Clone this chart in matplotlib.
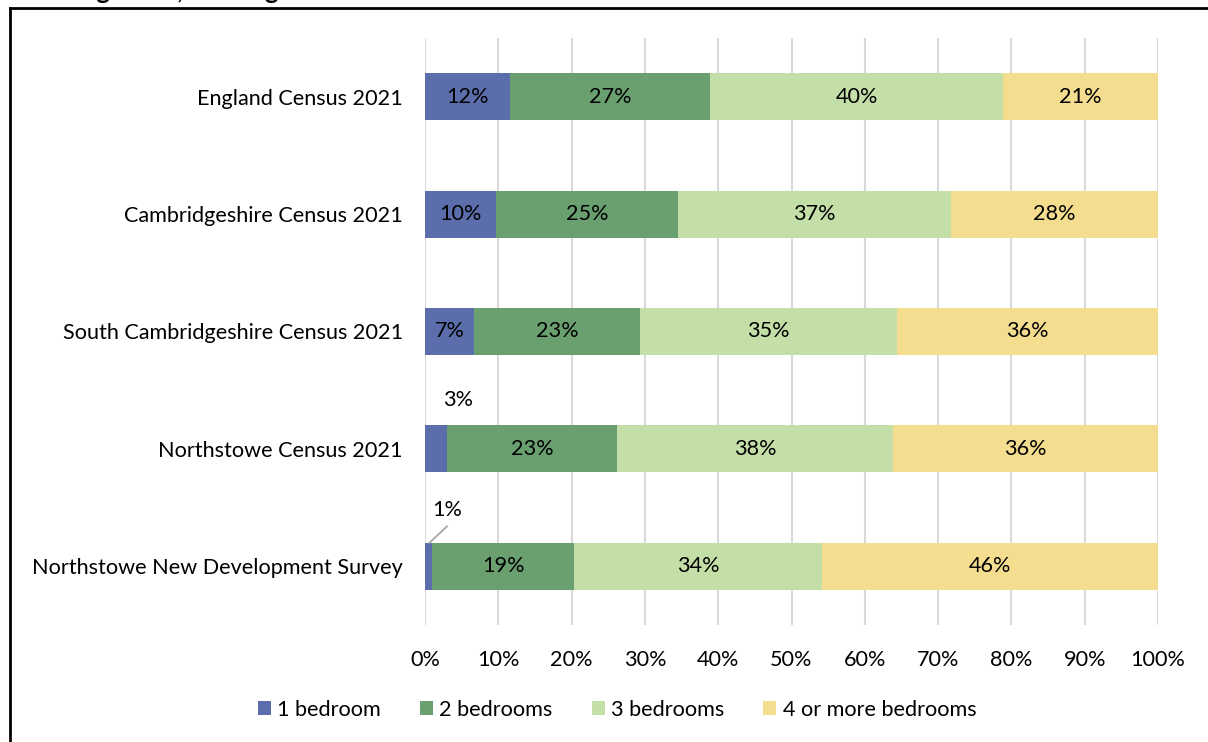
import matplotlib.pyplot as plt
import numpy as np

plt.rcParams['font.family'] = ['Lato', 'DejaVu Sans']

#--------------------------------------------#
# Data: share of households by bedroom count
#--------------------------------------------#
areas = ["England Census 2021",
         "Cambridgeshire Census 2021",
         "South Cambridgeshire Census 2021",
         "Northstowe Census 2021",
         "Northstowe New Development Survey"]
series_names = ["1 bedroom", "2 bedrooms", "3 bedrooms", "4 or more bedrooms"]
one_bed = [11.6, 9.7, 6.7, 3.0, 1.0]
two_bed = [27.3, 24.8, 22.6, 23.2, 19.3]
three_bed = [40.0, 37.3, 35.1, 37.6, 33.9]
four_bed = [21.1, 28.2, 35.6, 36.2, 45.8]
colors = ["#5B6DAA", "#6A9F6F", "#C4DEA8", "#F4DD8F"]

FS = 15.6

fig = plt.figure(figsize=(12.08, 7.42), dpi=100)
ax = fig.add_axes([425/1208, 1-625/742, 733/1208, 587/742])

y = np.arange(len(areas))
left = np.zeros(len(areas))
for vals, name, col in zip([one_bed, two_bed, three_bed, four_bed], series_names, colors):
    vals = np.array(vals)
    ax.barh(y, vals, left=left, height=0.4, color=col, label=name, zorder=3)
    for i, v in enumerate(vals):
        txt = "%d%%" % round(v)
        if v < 5:
            # small segments get their label above the bar
            if i == len(areas) - 1:
                ax.text(3.0, i - 0.48, txt, ha='center', va='center', fontsize=FS)
                ax.plot([3.0, left[i] + v/2 + 0.1], [i - 0.34, i - 0.2],
                        color='#A6A6A6', lw=1.3, zorder=4)
            else:
                ax.text(left[i] + 4.5, i - 0.42, txt, ha='center', va='center', fontsize=FS)
        else:
            ax.text(left[i] + v/2, i, txt, ha='center', va='center', fontsize=FS, zorder=4)
    left += vals

ax.set_xlim(0, 100)
ax.set_ylim(4.5, -0.5)
ax.set_yticks(y)
ax.set_yticklabels(areas, fontsize=FS)
ax.set_xticks(np.arange(0, 101, 10))
ax.set_xticklabels(["%d%%" % t for t in range(0, 101, 10)], fontsize=FS)
ax.tick_params(length=0, pad=16, axis='y')
ax.tick_params(length=0, pad=18, axis='x')
ax.grid(axis='x', color='#D9D9D9', lw=1.5, zorder=0)
for s in ax.spines.values():
    s.set_visible(False)

fig.legend(loc='center', bbox_to_anchor=(0.5 + 13/1208, 1-710/742), ncol=4, frameon=False,
           fontsize=FS, handlelength=0.6, handleheight=0.6, columnspacing=1.8,
           handletextpad=0.3)

# outer frame and clipped heading
fig.add_artist(plt.Line2D([10/1208, 10/1208], [0, 1-8/742], transform=fig.transFigure,
                          color='black', lw=2))
fig.add_artist(plt.Line2D([10/1208, 1], [1-8/742, 1-8/742], transform=fig.transFigure,
                          color='black', lw=2))
fig.text(2/1208, 1+1/742, "Cambridgeshire, and England", fontsize=18, fontweight='bold',
         va='baseline', ha='left')

fig.savefig("out.png", dpi=100)
